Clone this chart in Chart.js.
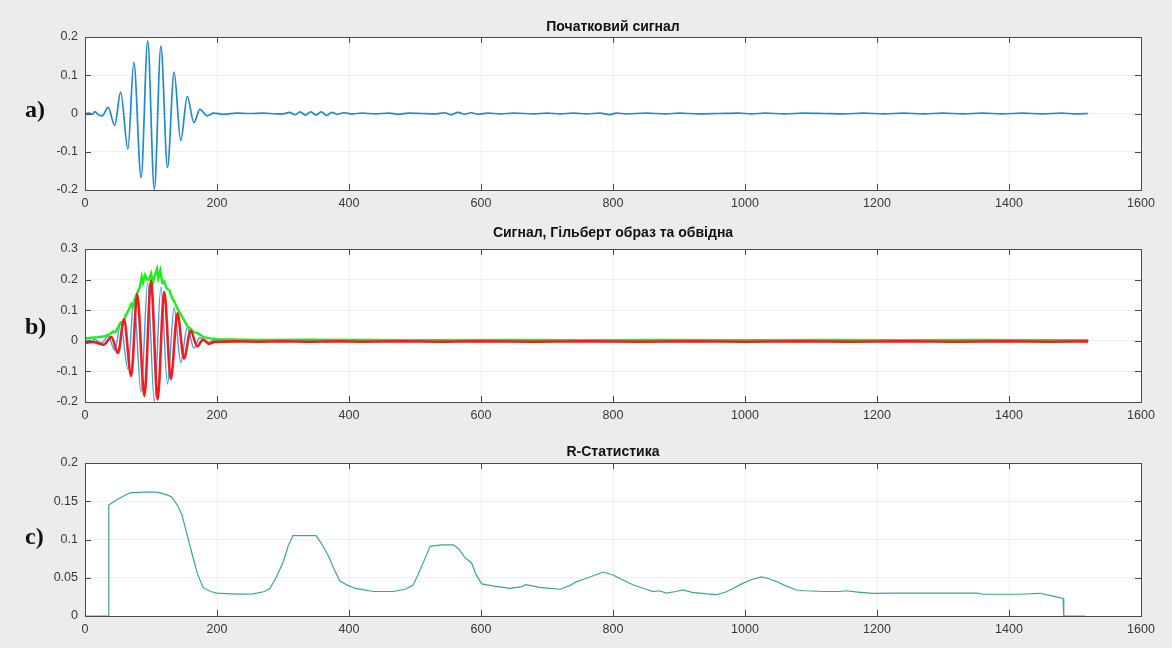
<!DOCTYPE html>
<html>
<head>
<meta charset="utf-8">
<script src="https://cdn.jsdelivr.net/npm/chart.js@4.4.1/dist/chart.umd.min.js"></script>
<style>
body { margin: 0; background: #ececec; width: 1172px; height: 648px; overflow: hidden; position: relative; }
canvas { position: absolute; left: 0; }
.lbl { position: absolute; left: 25px; font: bold 24px "Liberation Serif", "Times New Roman", serif; line-height: 1; color: #111; }
</style>
</head>
<body>
<canvas id="chartA" width="1172" height="215" style="top:0px"></canvas>
<canvas id="chartB" width="1172" height="212" style="top:215px"></canvas>
<canvas id="chartC" width="1172" height="221" style="top:427px"></canvas>
<div class="lbl" style="top:97px">a)</div>
<div class="lbl" style="top:314px">b)</div>
<div class="lbl" style="top:524px">c)</div>
<script>
// tick labels
const xTicks = [0, 200, 400, 600, 800, 1000, 1200, 1400, 1600];
const yTicksA = [-0.2, -0.1, 0, 0.1, 0.2];
const yTicksB = [-0.2, -0.1, 0, 0.1, 0.2, 0.3];
const yTicksC = [0, 0.05, 0.1, 0.15, 0.2];

// original signal (extrema)
const sigX = [0, 7, 11, 15, 20, 26, 35, 45, 54, 65, 74, 85, 95, 105, 115, 125, 135, 145, 155, 165, 174, 185, 195,
  210, 230, 250, 270, 290, 300, 310, 318, 326, 334, 342, 350, 358, 366, 374, 382, 392, 405, 420, 440, 460, 475, 490,
  510, 530, 545, 555, 565, 575, 585, 595, 610, 630, 650, 680, 700, 720, 740, 760, 780, 795, 805, 820, 850, 880, 900,
  930, 960, 990, 1010, 1030, 1060, 1090, 1120, 1150, 1180, 1210, 1240, 1270, 1300, 1330, 1360, 1390, 1420, 1450,
  1480, 1500, 1520];
const sigY = [0, 0.001, -0.002, 0.005, -0.003, -0.006, 0.016, -0.031, 0.056, -0.093, 0.134, -0.168, 0.19, -0.198,
  0.176, -0.141, 0.108, -0.071, 0.044, -0.024, 0.011, -0.006, 0.001,
  -0.002, 0.001, 0.0, 0.001, -0.001, -0.001, 0.003, -0.003, 0.004, -0.004, 0.004, -0.004, 0.004, -0.005, 0.003,
  -0.002, 0.002, -0.001, 0.001, -0.001, 0.001, -0.002, 0.001, 0.0, -0.001, 0.002, -0.003, 0.003, -0.002, 0.002,
  -0.002, 0.001, -0.001, 0.001, -0.001, 0.001, -0.001, 0.001, -0.001, 0.001, -0.003, 0.001, -0.001, 0.001, -0.001,
  0.001, -0.001, 0.0, 0.001, -0.001, 0.001, -0.001, 0.001, 0.0, -0.001, 0.001, -0.001, 0.001, -0.001, 0.001, -0.001,
  0.001, -0.001, 0.001, -0.001, 0.001, -0.001, 0.0];

// Hilbert image
const hilX = [0, 12, 20, 28, 40, 50, 59, 70, 79, 90, 100, 110, 120, 130, 140, 150, 160, 170, 179, 188, 196,
  230, 260, 300, 340, 380, 420, 480, 540, 600, 680, 760, 840, 920, 1000, 1080, 1160, 1240, 1320, 1400, 1460, 1520];
const hilY = [-0.006, -0.004, -0.008, -0.013, 0.012, -0.04, 0.07, -0.115, 0.152, -0.18, 0.197, -0.192, 0.16,
  -0.125, 0.09, -0.058, 0.033, -0.018, 0.004, -0.01, -0.004,
  -0.002, -0.003, -0.002, -0.003, -0.002, -0.003, -0.002, -0.003, -0.002, -0.003, -0.002, -0.003, -0.002, -0.003,
  -0.002, -0.003, -0.002, -0.003, -0.002, -0.003, -0.002];

// envelope
const envX = [0, 10, 20, 30, 38, 42, 46, 50, 54, 58, 62, 66, 70, 72, 76, 80, 83, 86, 88, 91, 94, 97, 100, 103, 106,
  109, 111, 114, 117, 120, 124, 128, 132, 136, 140, 144, 148, 152, 156, 160, 165, 170, 175, 180, 190, 200,
  260, 340, 420, 520, 640, 760, 880, 1000, 1120, 1240, 1360, 1460, 1520];
const envY = [0.008, 0.01, 0.012, 0.015, 0.022, 0.03, 0.028, 0.045, 0.06, 0.058, 0.085, 0.1, 0.12, 0.11, 0.14, 0.16,
  0.175, 0.21, 0.19, 0.215, 0.2, 0.2, 0.22, 0.19, 0.215, 0.235, 0.205, 0.23, 0.19, 0.195, 0.17, 0.165, 0.14, 0.125,
  0.105, 0.09, 0.075, 0.06, 0.045, 0.04, 0.028, 0.025, 0.02, 0.012, 0.008, 0.005,
  0.003, 0.004, 0.003, 0.002, 0.003, 0.002, 0.003, 0.002, 0.003, 0.002, 0.003, 0.002, 0.002];

// R statistic
const rX = [0, 35, 36, 50, 68, 90, 109, 122, 131, 140, 147, 155, 162, 170, 179, 190, 200, 220, 235, 255, 272, 280,
  290, 300, 308, 315, 330, 350, 358, 369, 378, 386, 398, 410, 437, 467, 485, 497, 505, 515, 523, 540, 558, 566, 575,
  586, 592, 601, 620, 644, 660, 668, 689, 705, 720, 735, 745, 765, 785, 800, 815, 831, 850, 861, 870, 881, 895, 906,
  920, 942, 957, 970, 982, 995, 1008, 1025, 1035, 1048, 1060, 1078, 1090, 1120, 1144, 1152, 1175, 1194, 1230, 1300,
  1351, 1361, 1417, 1447, 1467, 1482, 1483, 1515];
const rY = [0, 0, 0.145, 0.153, 0.161, 0.162, 0.162, 0.159, 0.156, 0.145, 0.132, 0.105, 0.082, 0.056, 0.037, 0.032,
  0.030, 0.029, 0.0285, 0.029, 0.032, 0.036, 0.051, 0.07, 0.092, 0.105, 0.105, 0.105, 0.095, 0.078, 0.06, 0.046,
  0.04, 0.036, 0.032, 0.032, 0.035, 0.040, 0.055, 0.075, 0.091, 0.093, 0.093, 0.088, 0.077, 0.069, 0.055, 0.042,
  0.039, 0.036, 0.038, 0.041, 0.0375, 0.036, 0.035, 0.04, 0.045, 0.051, 0.0575, 0.0536, 0.047, 0.0405, 0.035, 0.032,
  0.033, 0.030, 0.032, 0.034, 0.031, 0.0288, 0.028, 0.031, 0.036, 0.042, 0.047, 0.051, 0.049, 0.045, 0.04, 0.034,
  0.033, 0.032, 0.032, 0.033, 0.031, 0.0297, 0.030, 0.030, 0.030, 0.0284, 0.0284, 0.0297, 0.026, 0.023, 0, 0];

function pts(xs, ys) {
  return xs.map((x, i) => ({ x: x, y: ys[i] }));
}

// MATLAB-like box with inward ticks
const boxTicks = {
  id: 'boxTicks',
  afterDraw(chart) {
    const { ctx, chartArea: a, scales: { x, y } } = chart;
    ctx.save();
    ctx.strokeStyle = '#4a4a4a';
    ctx.lineWidth = 1;
    ctx.beginPath();
    x.ticks.forEach(t => {
      const px = Math.round(x.getPixelForValue(t.value)) + 0.5;
      ctx.moveTo(px, a.bottom); ctx.lineTo(px, a.bottom - 6);
      ctx.moveTo(px, a.top); ctx.lineTo(px, a.top + 6);
    });
    y.ticks.forEach(t => {
      const py = Math.round(y.getPixelForValue(t.value)) + 0.5;
      ctx.moveTo(a.left, py); ctx.lineTo(a.left + 6, py);
      ctx.moveTo(a.right, py); ctx.lineTo(a.right - 6, py);
    });
    ctx.stroke();
    ctx.strokeRect(Math.round(a.left) + 0.5, Math.round(a.top) + 0.5,
      Math.round(a.right - a.left), Math.round(a.bottom - a.top));
    ctx.restore();
  }
};

const plotBg = {
  id: 'plotBg',
  beforeDraw(chart) {
    const { ctx, chartArea: a } = chart;
    ctx.save();
    ctx.fillStyle = '#ffffff';
    ctx.fillRect(a.left, a.top, a.right - a.left, a.bottom - a.top);
    ctx.restore();
  }
};

const tickFont = { family: '"Liberation Sans", Arial, sans-serif', size: 12.5 };

function makePanel(id, datasets, title, yTicks, pad) {
  new Chart(document.getElementById(id), {
    type: 'line',
    data: { datasets: datasets },
    options: {
      responsive: false,
      animation: false,
      layout: { padding: { left: 0, right: 31, top: 0, bottom: pad.bottom } },
      plugins: {
        legend: { display: false },
        tooltip: { enabled: false },
        title: {
          display: true,
          text: title,
          fullSize: false,
          color: '#111',
          font: { family: '"Liberation Sans", Arial, sans-serif', size: 14, weight: 'bold' },
          padding: { top: pad.titleTop, bottom: pad.titleBottom }
        }
      },
      scales: {
        x: {
          type: 'linear',
          min: 0, max: 1600,
          afterBuildTicks: s => { s.ticks = xTicks.map(v => ({ value: v })); },
          afterFit: s => { s.height = 25; },
          grid: { color: 'rgba(0,0,0,0.06)', drawTicks: false },
          border: { display: false },
          ticks: { color: '#383838', font: tickFont, padding: 6, maxRotation: 0, callback: v => String(v) }
        },
        y: {
          min: yTicks[0], max: yTicks[yTicks.length - 1],
          afterBuildTicks: s => { s.ticks = yTicks.map(v => ({ value: v })); },
          afterFit: s => { s.width = 85; },
          grid: { color: 'rgba(0,0,0,0.06)', drawTicks: false },
          border: { display: false },
          ticks: { color: '#383838', font: tickFont, padding: 7, callback: v => String(parseFloat(v.toFixed(2))) }
        }
      }
    },
    plugins: [plotBg, boxTicks]
  });
}

const lineBase = { pointRadius: 0, fill: false };

makePanel('chartA', [
  Object.assign({ data: pts(sigX, sigY), borderColor: '#1f8ad3', borderWidth: 1.7, cubicInterpolationMode: 'monotone' }, lineBase)
], 'Початковий сигнал', yTicksA, { titleTop: 18.3, titleBottom: 1.9, bottom: 0 });

// lower order is drawn on top
makePanel('chartB', [
  Object.assign({ data: pts(sigX, sigY), borderColor: '#3a9ee0', borderWidth: 1.4, cubicInterpolationMode: 'monotone', order: 3 }, lineBase),
  Object.assign({ data: pts(hilX, hilY), borderColor: '#f21c1c', borderWidth: 2.6, cubicInterpolationMode: 'monotone', order: 1 }, lineBase),
  Object.assign({ data: pts(envX, envY), borderColor: '#19f019', borderWidth: 2.4, tension: 0, order: 2 }, lineBase)
], 'Сигнал, Гільберт образ та обвідна', yTicksB, { titleTop: 9.6, titleBottom: 7.6, bottom: 0 });

makePanel('chartC', [
  Object.assign({ data: pts(rX, rY), borderColor: '#3aa596', borderWidth: 1.2, tension: 0 }, lineBase)
], 'R-Статистика', yTicksC, { titleTop: 16.9, titleBottom: 2.3, bottom: 7 });
</script>
</body>
</html>
